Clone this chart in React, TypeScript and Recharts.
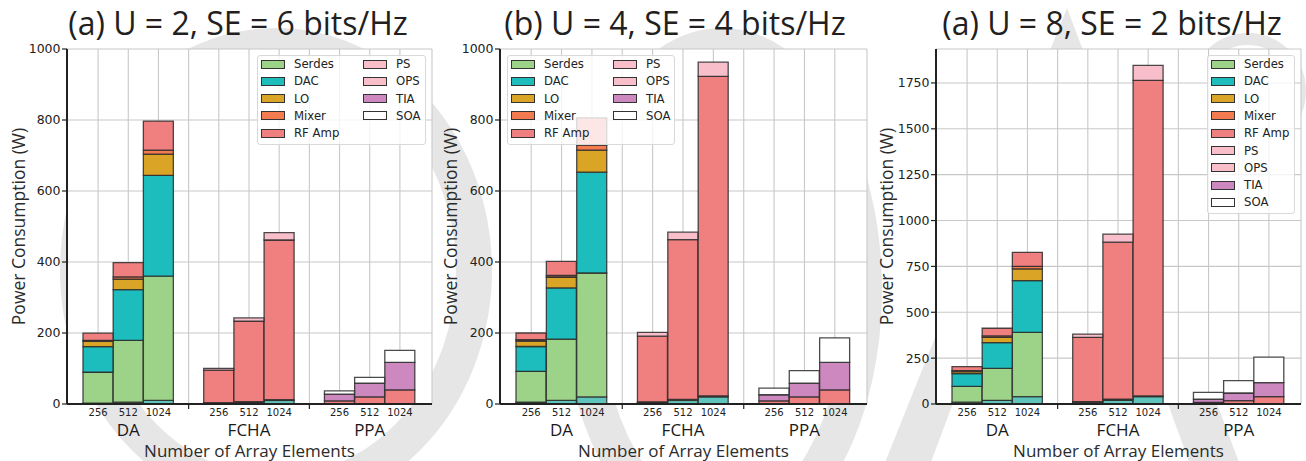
import React from 'react'
import { BarChart, Bar, XAxis, YAxis, CartesianGrid, Legend } from 'recharts'

// categories
const ARCHS = ['DA', 'FCHA', 'PPA']
const SIZES = ['256', '512', '1024']
const SERIES = ['ADC', 'Serdes', 'DAC', 'LO', 'Mixer', 'RF Amp', 'PS', 'OPS', 'TIA', 'SOA']
const LEGEND_NAMES = SERIES.slice(1)

const COLORS: Record<string, string> = {
  ADC: '#5fc4bb', Serdes: '#9dd289', DAC: '#1dbdbd', LO: '#daa526', Mixer: '#f47b50',
  'RF Amp': '#f08080', PS: '#f8bfcb', OPS: '#f8bfcb', TIA: '#cc88bf', SOA: '#ffffff',
}

// order: DA 256/512/1024, FCHA 256/512/1024, PPA 256/512/1024
// (a) U = 2, SE = 6
const ADC_U2 = [2.5, 5, 10, 2.5, 5, 10, 0, 0, 0]
const SERDES_U2 = [87, 174, 350, 0, 0, 0, 0, 0, 0]
const DAC_U2 = [72, 143, 284, 0, 0, 0, 0, 0, 0]
const LO_U2 = [15, 30, 60, 0, 0, 0, 0, 0, 0]
const MIXER_U2 = [3, 6, 11, 1, 1.5, 2, 0, 0, 0]
const RF_U2 = [20, 40, 82, 92, 227, 450, 9, 20, 40]
const PS_U2 = [0, 0, 0, 5, 9, 21, 0, 0, 0]
const OPS_U2 = [0, 0, 0, 0, 0, 0, 0, 0, 0]
const TIA_U2 = [0, 0, 0, 0, 0, 0, 19, 39, 77]
const SOA_U2 = [0, 0, 0, 0, 0, 0, 9, 16, 34]

// (b) U = 4, SE = 4
const ADC_U4 = [5, 10, 20, 5, 10, 20, 0, 0, 0]
const SERDES_U4 = [87, 173, 349, 0, 0, 0, 0, 0, 0]
const DAC_U4 = [70, 144, 284, 0, 0, 0, 0, 0, 0]
const LO_U4 = [15, 30, 62, 0, 0, 0, 0, 0, 0]
const MIXER_U4 = [4, 5, 14, 1, 3, 3, 0, 0, 0]
const RF_U4 = [19, 40, 77, 185, 450, 900, 9, 20, 40]
const PS_U4 = [0, 0, 0, 11, 21, 40, 0, 0, 0]
const OPS_U4 = [0, 0, 0, 0, 0, 0, 0, 0, 0]
const TIA_U4 = [0, 0, 0, 0, 0, 0, 17, 39, 77]
const SOA_U4 = [0, 0, 0, 0, 0, 0, 19, 35, 69]

// (a) U = 8, SE = 2
const ADC_U8 = [10, 20, 40, 10, 20, 40, 0, 0, 0]
const SERDES_U8 = [86, 174, 350, 0, 0, 0, 0, 0, 0]
const DAC_U8 = [70, 140, 282, 0, 0, 0, 0, 0, 0]
const LO_U8 = [10, 29, 64, 0, 0, 0, 0, 0, 0]
const MIXER_U8 = [6, 8, 14, 3, 6, 4, 0, 0, 0]
const RF_U8 = [22, 42, 77, 350, 856, 1720, 9, 18, 40]
const PS_U8 = [0, 0, 0, 18, 44, 82, 0, 0, 0]
const OPS_U8 = [0, 0, 0, 0, 0, 0, 0, 0, 0]
const TIA_U8 = [0, 0, 0, 0, 0, 0, 18, 42, 76]
const SOA_U8 = [0, 0, 0, 0, 0, 0, 36, 67, 139]

const TITLES = ['(a) U = 2, SE = 6 bits/Hz', '(b) U = 4, SE = 4 bits/Hz', '(a) U = 8, SE = 2 bits/Hz']
const TICKS_1000 = [0, 200, 400, 600, 800, 1000]
const TICKS_U8 = [0, 250, 500, 750, 1000, 1250, 1500, 1750]

function buildRows(cols: number[][]) {
  const rows: any[] = []
  ARCHS.forEach((arch, a) => {
    SIZES.forEach((size, s) => {
      const row: any = { key: `${arch}|${size}` }
      SERIES.forEach((name, k) => {
        const v = cols[k][a * 3 + s]
        row[name] = v ? v : null
      })
      rows.push(row)
    })
    if (a < ARCHS.length - 1) rows.push({ key: `gap${a}` })
  })
  return rows
}

const PANELS = [
  {
    rows: buildRows([ADC_U2, SERDES_U2, DAC_U2, LO_U2, MIXER_U2, RF_U2, PS_U2, OPS_U2, TIA_U2, SOA_U2]),
    left: 0, width: 435, yW: 67, mr: 3, yMax: 1000, ticks: TICKS_1000,
    titleX: 238, yLabelX: 24.5, lg: { x: 257, y: 55, w: 169, h: 90, perCol: 5 },
  },
  {
    rows: buildRows([ADC_U4, SERDES_U4, DAC_U4, LO_U4, MIXER_U4, RF_U4, PS_U4, OPS_U4, TIA_U4, SOA_U4]),
    left: 435, width: 435, yW: 65, mr: 3, yMax: 1000, ticks: TICKS_1000,
    titleX: 675, yLabelX: 457, lg: { x: 507, y: 55, w: 168, h: 90, perCol: 5 },
  },
  {
    rows: buildRows([ADC_U8, SERDES_U8, DAC_U8, LO_U8, MIXER_U8, RF_U8, PS_U8, OPS_U8, TIA_U8, SOA_U8]),
    left: 870, width: 436, yW: 66, mr: 5, yMax: 1935, ticks: TICKS_U8,
    titleX: 1112, yLabelX: 893, lg: { x: 1207, y: 55, w: 88, h: 159, perCol: 9 },
  },
]

const FRAME = { stroke: '#222', strokeWidth: 2 }

function XTick(props: any) {
  const { x, y, payload } = props
  const v = String(payload.value)
  if (v.startsWith('gap')) {
    return <line x1={x} x2={x} y1={y} y2={y + 5} stroke="#222" strokeWidth={1.2} />
  }
  const [arch, size] = v.split('|')
  return (
    <g>
      <text x={x} y={y + 12} textAnchor="middle" fontSize={10} fontFamily="DejaVu Sans" fill="#222">{size}</text>
      {size === '512' && (
        <text x={x} y={y + 31.5} textAnchor="middle" fontSize={17} fontFamily="Open Sans" fill="#1a1a1a">{arch}</text>
      )}
    </g>
  )
}

function LegendBox({ w, h, perCol }: { w: number; h: number; perCol: number }) {
  return (
    <div style={{
      position: 'relative', width: w, height: h, boxSizing: 'border-box',
      background: 'rgba(255,255,255,0.8)', border: '1px solid #d9d9d9', borderRadius: 3,
    }}>
      {LEGEND_NAMES.map((name, i) => {
        const col = Math.floor(i / perCol)
        const cy = 8 + (i % perCol) * 17.3
        return (
          <React.Fragment key={name}>
            <div style={{
              position: 'absolute', left: 3 + col * 102, top: cy - 4.5, width: 24, height: 9,
              background: COLORS[name], border: '1px solid #333', boxSizing: 'border-box',
            }} />
            <div style={{
              position: 'absolute', left: 36 + col * 102, top: cy - 8, fontSize: 11.7, lineHeight: '16px',
              fontFamily: 'DejaVu Sans', color: '#222', whiteSpace: 'nowrap',
            }}>{name}</div>
          </React.Fragment>
        )
      })}
    </div>
  )
}

function Panel({ p }: { p: typeof PANELS[number] }) {
  return (
    <div style={{ position: 'absolute', left: p.left, top: 0 }}>
      <BarChart width={p.width} height={461} data={p.rows} barCategoryGap={0} barGap={0}
        margin={{ top: 49, right: p.mr, bottom: 0, left: 0 }}>
        <CartesianGrid stroke="#c8c8c8" strokeWidth={1.1} fill="#ffffff" />
        <XAxis dataKey="key" interval={0} height={57} tickSize={0} tickMargin={0} tickLine={false}
          axisLine={FRAME} padding={{ left: 16, right: 17 }} tick={(t: any) => <XTick {...t} />} />
        <XAxis xAxisId="top" orientation="top" dataKey="key" height={0} tick={false} tickLine={false} axisLine={FRAME} />
        <YAxis type="number" domain={[0, p.yMax]} ticks={p.ticks} width={p.yW} tickSize={5} tickMargin={1.5}
          axisLine={FRAME} tickLine={{ stroke: '#222', strokeWidth: 1.2 }}
          tick={{ fontSize: 12.5, fontFamily: 'DejaVu Sans', fill: '#222' }} />
        <YAxis yAxisId="right" orientation="right" width={0} domain={[0, 1]} tick={false} tickLine={false} axisLine={FRAME} />
        <Legend layout="vertical" align="center" verticalAlign="middle"
          wrapperStyle={{ left: p.lg.x - p.left, top: p.lg.y, width: p.lg.w, height: p.lg.h }}
          content={() => <LegendBox w={p.lg.w} h={p.lg.h} perCol={p.lg.perCol} />} />
        {SERIES.map(name => (
          <Bar key={name} dataKey={name} stackId="s" fill={COLORS[name]} stroke="#2b2b2b"
            strokeWidth={1.3} strokeOpacity={0.85} isAnimationActive={false} />
        ))}
      </BarChart>
    </div>
  )
}

export default function App() {
  const wm = '#e6e6e6'
  return (
    <div style={{ position: 'absolute', left: 0, top: 0, width: 1306, height: 461, background: '#fff', overflow: 'hidden' }}>
      <svg width={1306} height={461} style={{ position: 'absolute', left: 0, top: 0 }}>
        {/* faint watermark behind the figure */}
        <ellipse cx={276} cy={270} rx={198} ry={224} fill="none" stroke={wm} strokeWidth={36} />
        <ellipse cx={722} cy={290} rx={142} ry={244} fill="none" stroke={wm} strokeWidth={36} />
        <polygon points="882,470 1067,8 1242,470 1192,470 1062,112 928,470" fill={wm} />
        <circle cx={1248} cy={91} r={52} fill="none" stroke={wm} strokeWidth={12} />
        {PANELS.map((p, i) => (
          <g key={i}>
            <text x={p.titleX} y={35} textAnchor="middle" fontSize={32} fontFamily="Open Sans" fill="#231f20">{TITLES[i]}</text>
            <text transform={`translate(${p.yLabelX},226.5) rotate(-90)`} textAnchor="middle" fontSize={17.5}
              fontFamily="Open Sans" fill="#2b2b2b">Power Consumption (W)</text>
            <text x={p.left + p.yW + (p.width - p.yW - p.mr) / 2} y={456.5} textAnchor="middle" fontSize={17}
              fontFamily="Open Sans" fill="#2b2b2b">Number of Array Elements</text>
          </g>
        ))}
      </svg>
      {PANELS.map((p, i) => <Panel key={i} p={p} />)}
    </div>
  )
}
